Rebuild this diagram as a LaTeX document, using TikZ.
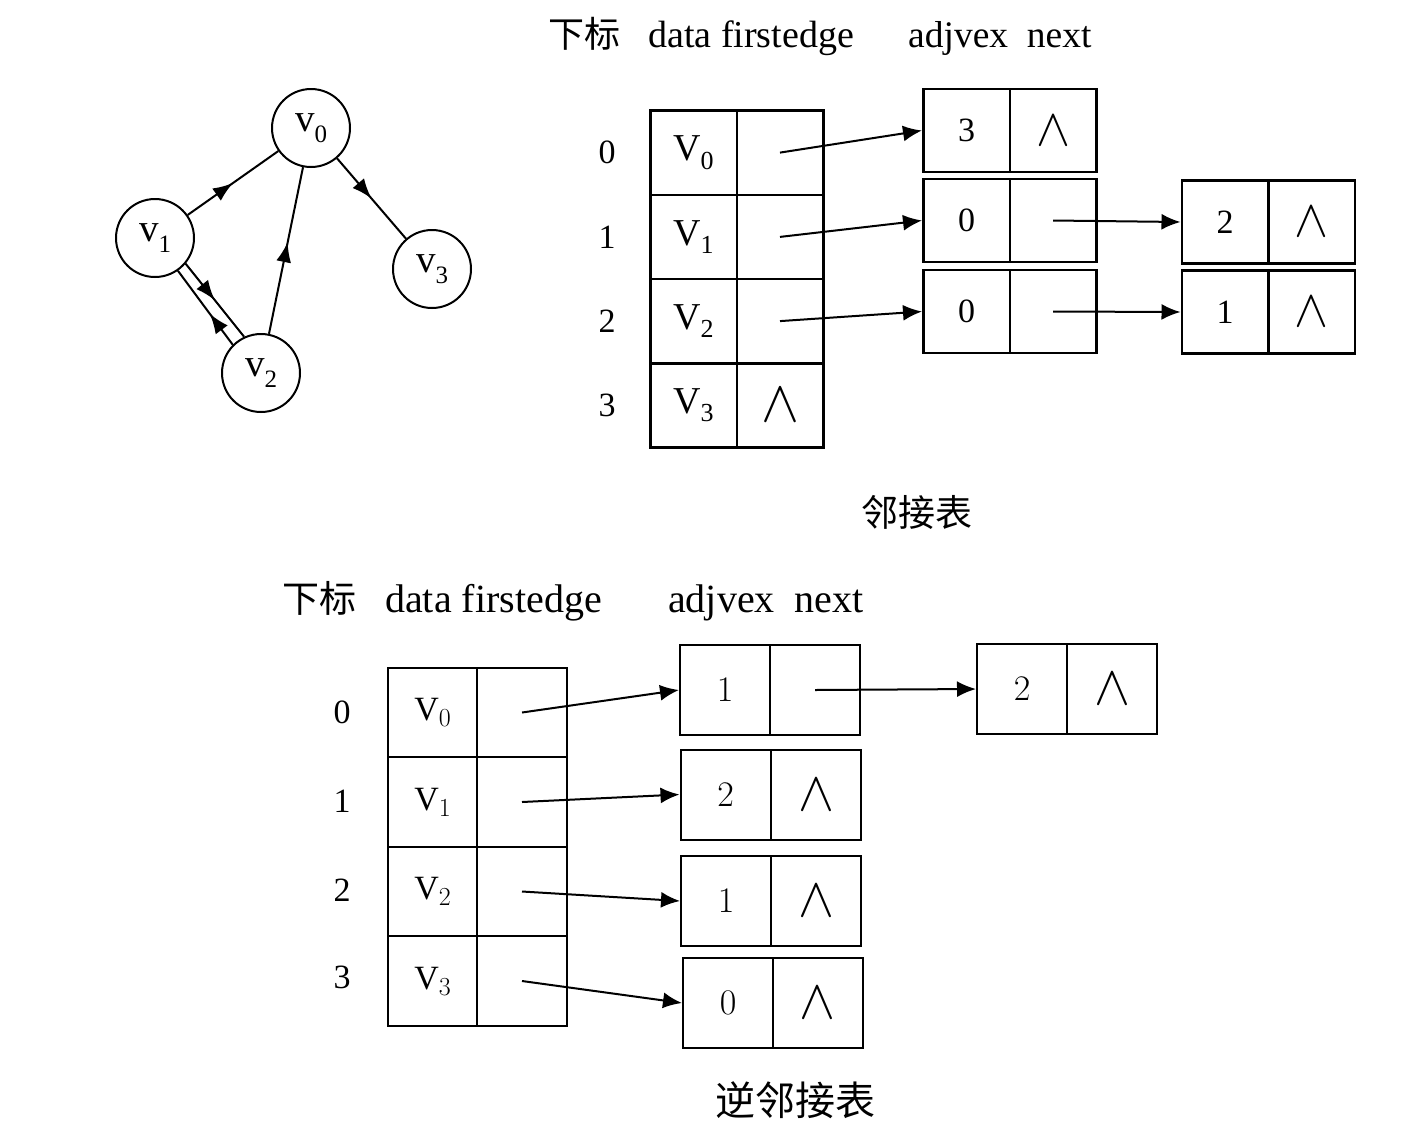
\RequirePackage{fix-cm}
\documentclass[tikz,border=0pt]{standalone}
\usepackage{fontspec}
\usepackage{graphicx}
\setmainfont{Liberation Serif}
\newfontfamily\cjk{Noto Sans CJK SC}
\usetikzlibrary{arrows.meta,decorations.markings}
\newcommand\setfs[1]{\fontsize{#1}{#1}\selectfont}
\newcommand\gv[1]{v\raisebox{-0.28em}{\setfs{25}#1}}
\newcommand\tv[1]{V\raisebox{-0.22em}{\setfs{26}#1}}
\newcommand\bv[1]{$\mathrm{V}$\raisebox{-6pt}{\setfs{26}$#1$}}
\newcommand\nul{\scalebox{1.5}[1.55]{$\wedge$}}
\begin{document}
\begin{tikzpicture}[x=1pt,y=-1pt,
  gnode/.style={draw, circle, line width=2pt, minimum size=78pt, inner sep=0pt, font=\setfs{39}},
  midarrow/.style={postaction={decorate}, decoration={markings, mark=at position #1 with {\arrow{Latex[length=20pt,width=15pt]}}}},
  midarrow/.default=0.5,
  gedge/.style={line width=2pt},
  tcell/.style={draw, line width=2.5pt, minimum width=86.5pt, minimum height=84.3pt, inner sep=0pt, font=\setfs{38}},
  ecell/.style={draw, line width=2.5pt, minimum width=86.5pt, minimum height=83pt, inner sep=0pt, font=\setfs{34}},
  bcell/.style={draw, line width=2pt, minimum width=89.5pt, minimum height=89.5pt, inner sep=0pt, font=\setfs{34}},
  becell/.style={draw, line width=2pt, minimum width=90pt, minimum height=90pt, inner sep=0pt, font=\setfs{36}},
  ptr/.style={line width=2pt, -{Latex[length=19pt,width=16pt]}},
  idx/.style={font=\setfs{34}},
  hdr/.style={font=\setfs{#1}, anchor=base west, inner sep=0pt},
  hdr/.default=38,
  chdr/.style={font=\cjk\setfs{#1}, anchor=base west, inner sep=0pt},
  chdr/.default=36,
  captxt/.style={font=\cjk\setfs{#1}},
  captxt/.default=37
]
\useasboundingbox (0,0) rectangle (1405,1125);

% ---------- graph ----------
\node[gnode] (v0) at (311,128) {\gv{0}};
\node[gnode] (v1) at (155,238) {\gv{1}};
\node[gnode] (v2) at (261,373) {\gv{2}};
\node[gnode] (v3) at (432,269) {\gv{3}};
\draw[gedge,midarrow] (v1) -- (v0);
\draw[gedge,midarrow] (v0) -- (v3);
\draw[gedge,midarrow=0.55] (v2) -- (v0);
\draw[gedge,midarrow=0.5] (v1.-40) -- (v2.115);
\draw[gedge,midarrow=0.42] (v2.135) -- (v1.-55);

% ---------- top: adjacency list ----------
\node[chdr] (h1a) at (548,47) {下标};
\node[hdr] (h1b) at (648,47) {data firstedge};
\node[hdr=37.5] (h1c) at (908,47) {adjvex\ \ next};

\node[idx] (i0) at (607,152) {0};
\node[idx] (i1) at (607,237) {1};
\node[idx] (i2) at (607,321) {2};
\node[idx] (i3) at (607,405) {3};

\node[tcell] (a0) at (693.5,152.6) {\tv{0}};
\node[tcell] (b0) at (780,152.6) {};
\node[tcell] (a1) at (693.5,236.9) {\tv{1}};
\node[tcell] (b1) at (780,236.9) {};
\node[tcell] (a2) at (693.5,321.1) {\tv{2}};
\node[tcell] (b2) at (780,321.1) {};
\node[tcell] (a3) at (693.5,405.4) {\tv{3}};
\node[tcell] (b3) at (780,405.4) {\nul};

\node[ecell] (e1a) at (966.5,130.5) {3};
\node[ecell] (e1b) at (1053,130.5) {\nul};
\node[ecell] (e2a) at (966.5,220.5) {0};
\node[ecell] (e2b) at (1053,220.5) {};
\node[ecell] (e3a) at (966.5,311.5) {0};
\node[ecell] (e3b) at (1053,311.5) {};
\node[ecell] (f1a) at (1225,222) {2};
\node[ecell] (f1b) at (1311.5,222) {\nul};
\node[ecell] (f2a) at (1225,312) {1};
\node[ecell] (f2b) at (1311.5,312) {\nul};

\draw[ptr] (b0.center) -- (e1a.west);
\draw[ptr] (b1.center) -- (e2a.west);
\draw[ptr] (b2.center) -- (e3a.west);
\draw[ptr] (e2b.center) -- (f1a.west);
\draw[ptr] (e3b.center) -- (f2a.west);

\node[captxt] (c1) at (917,512) {邻接表};

% ---------- bottom: inverse adjacency list ----------
\node[chdr=37] (h2a) at (282,612) {下标};
\node[hdr=40] (h2b) at (385,612) {data firstedge};
\node[hdr=40] (h2c) at (668,612) {adjvex\ \ next};

\node[idx] (j0) at (342,712) {0};
\node[idx] (j1) at (342,801) {1};
\node[idx] (j2) at (342,890) {2};
\node[idx] (j3) at (342,977) {3};

\node[bcell] (p0) at (432.5,712.5) {\bv{0}};
\node[bcell] (q0) at (522,712.5) {};
\node[bcell] (p1) at (432.5,802) {\bv{1}};
\node[bcell] (q1) at (522,802) {};
\node[bcell] (p2) at (432.5,891.5) {\bv{2}};
\node[bcell] (q2) at (522,891.5) {};
\node[bcell] (p3) at (432.5,981) {\bv{3}};
\node[bcell] (q3) at (522,981) {};

\node[becell] (r1a) at (725,690) {$1$};
\node[becell] (r1b) at (815,690) {};
\node[becell] (r2a) at (725.5,794.5) {$2$};
\node[becell] (r2b) at (816,794.5) {\nul};
\node[becell] (r3a) at (726,901) {$1$};
\node[becell] (r3b) at (816,901) {\nul};
\node[becell] (r4a) at (728,1003) {$0$};
\node[becell] (r4b) at (817.5,1003) {\nul};
\node[becell] (s1a) at (1022,689) {$2$};
\node[becell] (s1b) at (1112,689) {\nul};

\draw[ptr] (q0.center) -- (r1a.west);
\draw[ptr] (q1.center) -- (r2a.west);
\draw[ptr] (q2.center) -- (r3a.west);
\draw[ptr] (q3.center) -- (r4a.west);
\draw[ptr] (r1b.center) -- (s1a.west);

\node[captxt=40] (c2) at (795,1100) {逆邻接表};
\end{tikzpicture}
\end{document}
